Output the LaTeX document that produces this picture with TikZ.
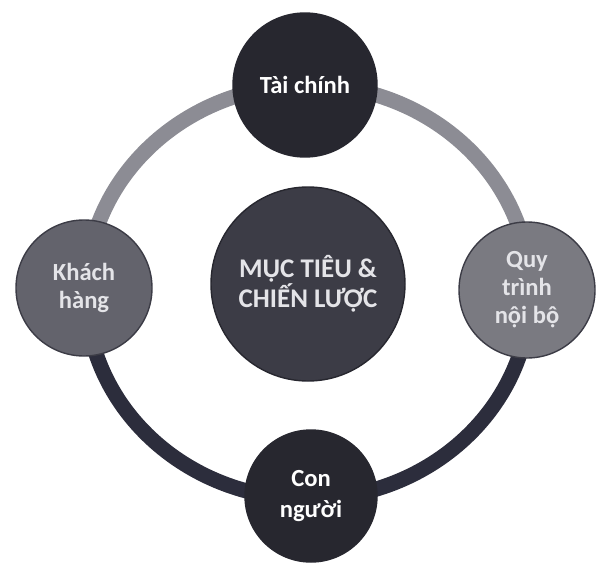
\documentclass[tikz,border=0pt]{standalone}
\usepackage{fontspec}
\setmainfont{Carlito}
\usepackage{tikz}
\usetikzlibrary{positioning}
\definecolor{kring}{HTML}{8C8C94}
\definecolor{kringdark}{HTML}{2C2D3C}
\definecolor{kdark}{HTML}{27272F}
\definecolor{kmid}{HTML}{3C3C46}
\definecolor{klight}{HTML}{63636C}
\definecolor{kpale}{HTML}{7A7A81}
\definecolor{ktext}{HTML}{E4E4E8}

\tikzset{
  bubble/.style={circle, draw=kdark, line width=1.2pt, inner sep=0pt, align=center,
    font=\fontsize{21}{24}\selectfont\bfseries, text=white},
}

\begin{document}
\begin{tikzpicture}[x=0.03cm, y=-0.03cm]
\useasboundingbox (0,0) rectangle (601,566);
\coordinate (mid) at (308,292);
% ring behind the bubbles
\draw[kring, line width=13pt] (mid) ++(-222,0) arc[start angle=180, end angle=360, x radius=222, y radius=207];
\draw[kringdark, line width=13pt] (mid) ++(-222,0) arc[start angle=180, end angle=0, x radius=222, y radius=207];

\node[bubble, minimum size=5.82cm, fill=kmid, text=ktext, font=\fontsize{23}{24}\selectfont\bfseries]
  (goal) at (308,284) {MỤC TIÊU \&\\CHIẾN LƯỢC};
\node[bubble, minimum size=4.32cm, fill=kdark] (fin) at (305,85) {Tài chính};
\node[bubble, minimum size=4.08cm, fill=klight, draw=kmid, text=ktext] (cust) at (84,288) {Khách\\hàng};
\node[bubble, minimum size=4.08cm, fill=kpale, draw=kmid, text=ktext] (proc) at (527,290) {Quy\\trình\\nội bộ};
\node[bubble, minimum size=3.96cm, fill=kdark, font=\fontsize{21}{27}\selectfont\bfseries] (ppl) at (311,496) {Con\\người};
\end{tikzpicture}
\end{document}
